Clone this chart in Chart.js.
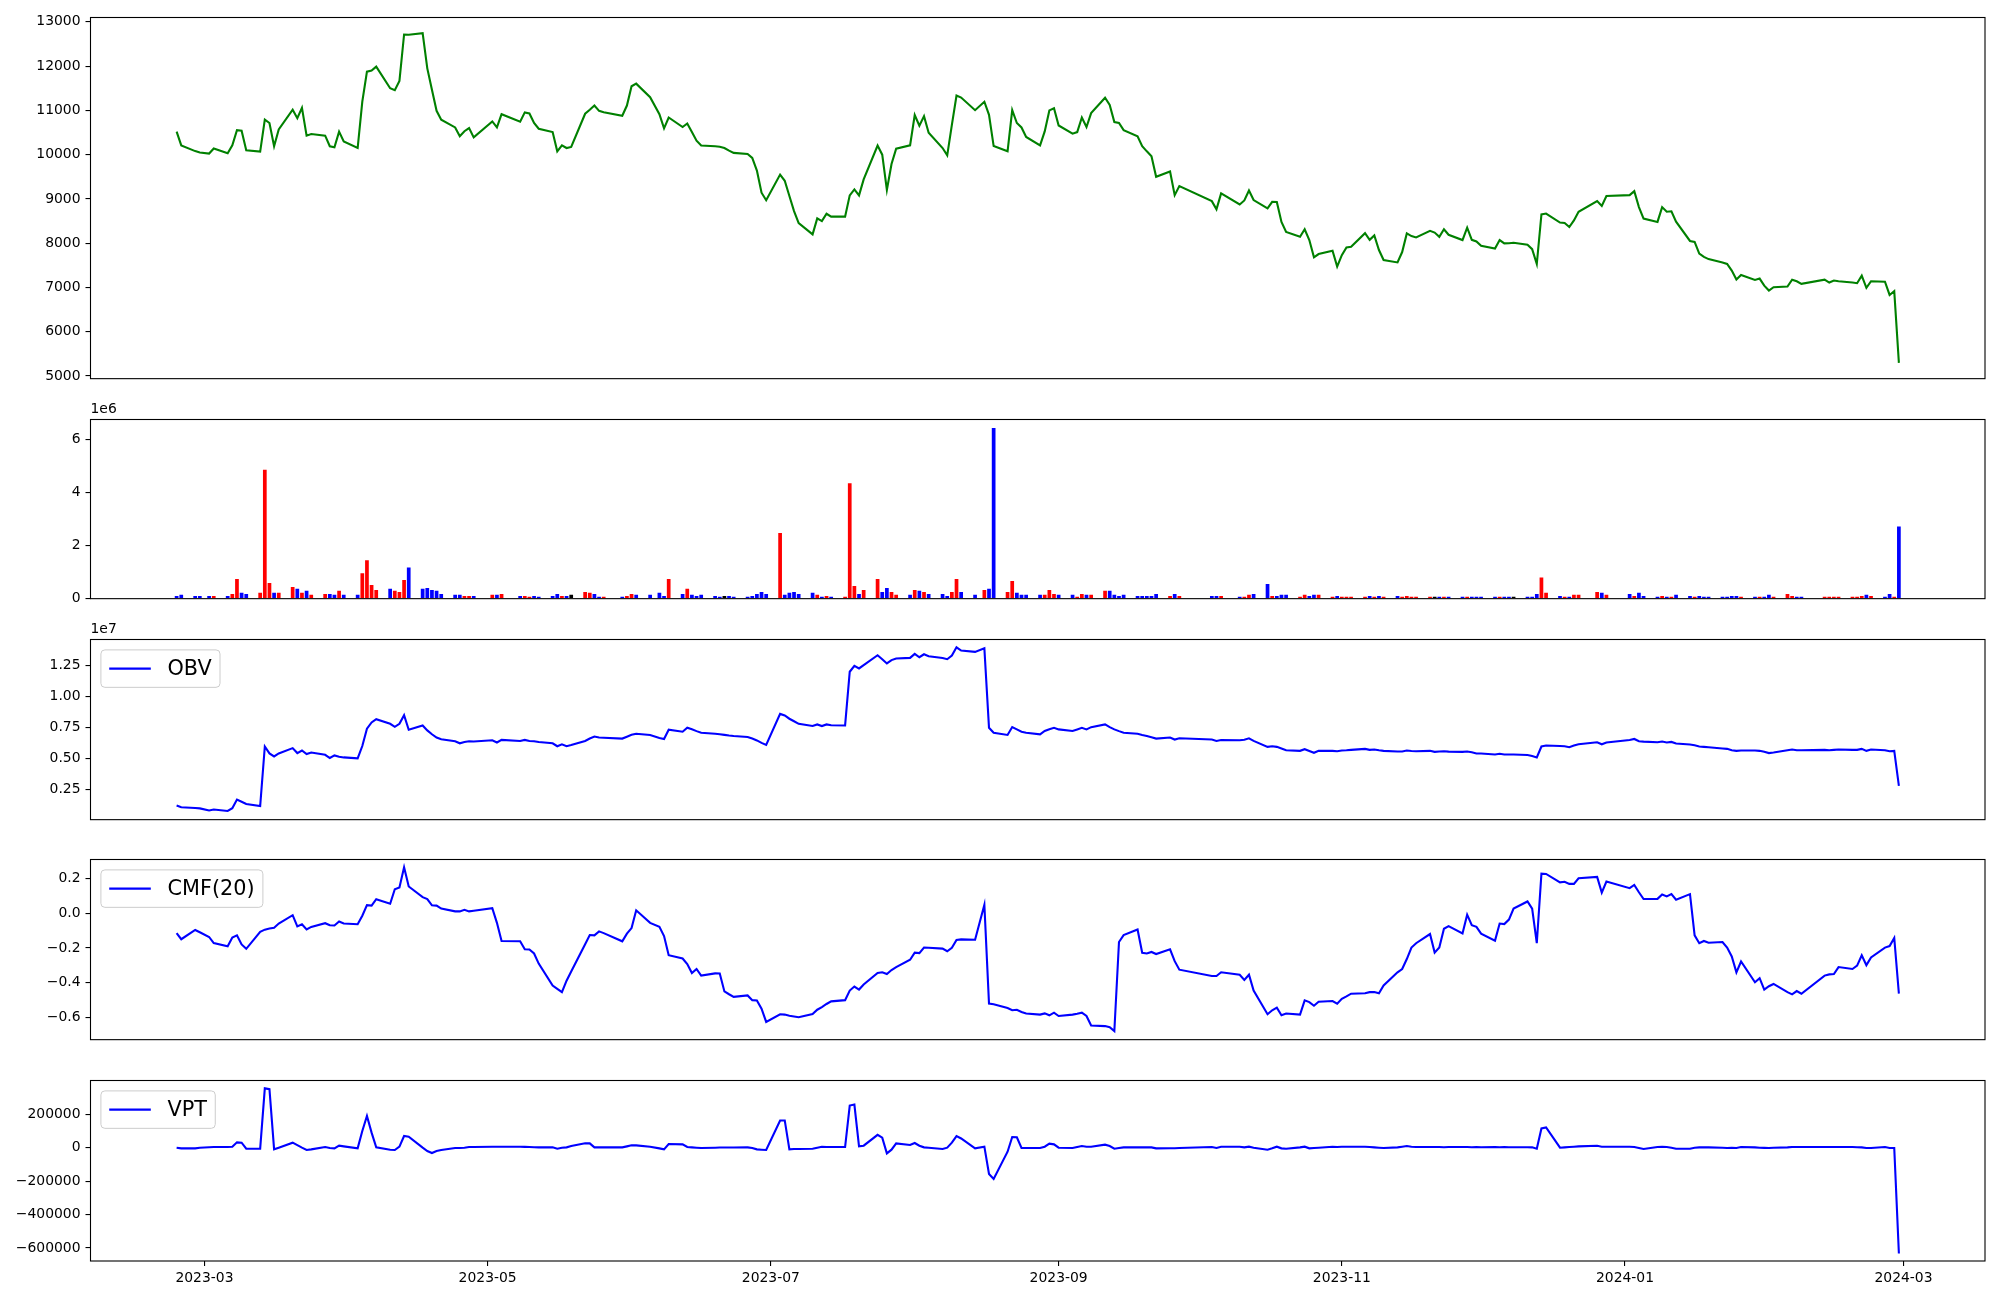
<!DOCTYPE html>
<html>
<head>
<meta charset="utf-8">
<title>Price / Volume / OBV / CMF / VPT</title>
<script src="https://cdn.jsdelivr.net/npm/chart.js@4.4.1/dist/chart.umd.min.js"></script>
<style>
  html, body { margin: 0; padding: 0; background: #fff; }
  #wrap { position: relative; width: 2000px; height: 1300px; overflow: hidden; }
  #wrap canvas { position: absolute; left: 0; }
</style>
</head>
<body>
<div id="wrap">
  <canvas id="chartPrice"></canvas>
  <canvas id="chartVolume"></canvas>
  <canvas id="chartObv"></canvas>
  <canvas id="chartCmf"></canvas>
  <canvas id="chartVpt"></canvas>
</div>
<script>
// ---- data ----

// trading days, grouped by month
const tradingDays = [
  ['2023-02', [23, 24, 27, 28]],
  ['2023-03', [2, 3, 6, 7, 8, 9, 10, 13, 14, 15, 16, 17, 20, 21, 22, 23, 24, 27, 28, 29, 30, 31]],
  ['2023-04', [3, 4, 5, 6, 7, 10, 11, 12, 13, 14, 17, 18, 19, 20, 21, 24, 25, 26, 27, 28]],
  ['2023-05', [2, 3, 4, 8, 9, 10, 11, 12, 15, 16, 17, 18, 19, 22, 23, 24, 25, 26, 30, 31]],
  ['2023-06', [1, 2, 5, 7, 8, 9, 12, 13, 14, 15, 16, 19, 20, 21, 22, 23, 26, 27, 28, 29, 30]],
  ['2023-07', [3, 4, 5, 6, 7, 10, 11, 12, 13, 14, 17, 18, 19, 20, 21, 24, 25, 26, 27, 28, 31]],
  ['2023-08', [1, 2, 3, 4, 7, 8, 9, 10, 11, 14, 16, 17, 18, 21, 22, 23, 24, 25, 28, 29, 30, 31]],
  ['2023-09', [1, 4, 5, 6, 7, 8, 11, 12, 13, 14, 15, 18, 19, 20, 21, 22, 25, 26, 27]],
  ['2023-10', [4, 5, 6, 10, 11, 12, 13, 16, 17, 18, 19, 20, 23, 24, 25, 26, 27, 30, 31]],
  ['2023-11', [1, 2, 3, 6, 7, 8, 9, 10, 13, 14, 15, 16, 17, 20, 21, 22, 23, 24, 27, 28, 29, 30]],
  ['2023-12', [1, 4, 5, 6, 7, 8, 11, 12, 13, 14, 15, 18, 19, 20, 21, 22, 26, 27, 28]],
  ['2024-01', [2, 3, 4, 5, 8, 9, 10, 11, 12, 15, 16, 17, 18, 19, 22, 23, 24, 25, 26, 29, 30, 31]],
  ['2024-02', [1, 2, 5, 6, 7, 8, 13, 14, 15, 16, 19, 20, 21, 22, 23, 26, 27, 28, 29]]
];

const closePrice = [
  10520, 10210, 10080, 10050,
  10025, 10140, 10030, 10210, 10555, 10540, 10100, 10070, 10790, 10715, 10190, 10570, 11015, 10825, 11060, 10430, 10465, 10430, 10190, 10165, 10520, 10300,
  10150, 11200, 11875, 11900, 11990, 11500, 11455, 11665, 12715, 12710, 12745, 11950, 11465, 10990, 10790, 10615, 10415, 10530, 10600, 10390,
  10750, 10615, 10915, 10745, 10955, 10930, 10715, 10585, 10510, 10075, 10210, 10150, 10175, 10925, 11015, 11110, 10990, 10960, 10880, 11110,
  11545, 11605, 11300, 10915, 10595, 10840, 10625, 10705, 10510, 10315, 10205, 10190, 10180, 10150, 10090, 10040, 10015, 9925, 9640, 9140, 8970,
  9550, 9410, 9065, 8725, 8455, 8200, 8560, 8500, 8665, 8600, 8600, 9080, 9215, 9080, 9440, 10205, 10000, 9205, 9790, 10135, 10210,
  10895, 10655, 10870, 10495, 10150, 9985, 10675, 11335, 11290, 11005, 11195, 10900, 10195, 10075, 11005, 10715, 10615, 10400, 10210, 10526, 11000, 11050,
  10660, 10475, 10510, 10840, 10625, 10940, 11285, 11125, 10735, 10715, 10555, 10415, 10190, 10075, 9965, 9500, 9620, 9085, 9290,
  8950, 8765, 9125, 8875, 8965, 9190, 8975, 8785, 8935, 8930, 8480, 8255, 8145, 8315, 8070, 7680, 7755, 7830, 7470,
  7730, 7905, 7920, 8225, 8075, 8175, 7845, 7620, 7565, 7800, 8220, 8160, 8130, 8280, 8240, 8145, 8315, 8190, 8070, 8350, 8075, 8040,
  7940, 7880, 8070, 7995, 8000, 8010, 7965, 7865, 7530, 8650, 8670, 8465, 8455, 8365, 8515, 8710, 8950, 8840, 9065,
  9085, 9175, 8815, 8555, 8480, 8815, 8710, 8720, 8485, 8050, 8030, 7765, 7690, 7640, 7565, 7530, 7380, 7180, 7280, 7170, 7200, 7040,
  6930, 7005, 7020, 7175, 7140, 7080, 7175, 7110, 7155, 7140, 7110, 7095, 7265, 6990, 7140, 7130, 6830, 6915, 5295
];

// volume in thousands of shares
const volumeThousands = [
  105, 145, 105, 105,
  105, 105, 105, 180, 740, 220, 180, 220, 4860, 590, 220, 220, 440, 370, 220, 295, 145, 180, 180, 145, 295, 145,
  145, 960, 1450, 515, 330, 370, 295, 255, 705, 1180, 370, 405, 330, 295, 180, 145, 145, 105, 105, 105,
  145, 145, 180, 105, 105, 68, 105, 68, 105, 180, 105, 105, 145, 255, 220, 180, 68, 68, 68, 105,
  180, 145, 145, 220, 105, 740, 180, 370, 145, 105, 145, 105, 68, 105, 105, 68, 68, 105, 180, 255, 180,
  2480, 145, 220, 255, 180, 220, 145, 68, 105, 68, 68, 4350, 480, 180, 330, 740, 255, 405, 255, 145, 145,
  330, 295, 255, 180, 180, 105, 255, 740, 255, 145, 330, 370, 6440, 255, 670, 220, 145, 145, 145, 145, 330, 180,
  145, 145, 68, 180, 145, 145, 295, 295, 145, 105, 145, 105, 105, 105, 105, 180, 105, 180, 105,
  105, 105, 105, 68, 68, 145, 180, 550, 105, 105, 145, 145, 68, 145, 105, 145, 145, 68, 105,
  68, 68, 68, 68, 105, 68, 105, 68, 105, 68, 105, 68, 68, 68, 68, 68, 68, 68, 68, 68, 68, 68,
  68, 68, 68, 68, 68, 68, 68, 68, 180, 800, 220, 105, 68, 68, 145, 145, 255, 220, 145,
  180, 105, 220, 105, 68, 105, 68, 68, 145, 105, 68, 105, 68, 68, 68, 68, 105, 105, 68, 68, 68, 68,
  145, 68, 180, 105, 68, 68, 68, 68, 68, 68, 68, 68, 105, 145, 105, 68, 180, 68, 2720
];

// bar colour per day: r = up, b = down, k = unchanged
const volumeDirection = [
  'bbbb',
  'brbrrbbrrrbrrbrbrrbbrb',
  'brrrrbrrrbbbbbbbbrrb',
  'rbrbrrbbbbrbkrrbbrbr',
  'rbbbbrbrbbbbbkbbbbbbb',
  'rbbbbbrbrbrrrbrrbbrrb',
  'rbrbbbrrbbrbbrrbbbbrrr',
  'bbrrbrrbbbbbbbbbrbr',
  'bbrbrrbbrbbbrrbbrrb',
  'rrrrbrbrbrrrrrkbrbbrbb',
  'bbrbbkbbbrrbrbrrrbr',
  'brbbbrbrbbrbbbbbbbrbrb',
  'brrrbbrrrrrrrbrbbrb'
].join('');

// OBV in units of 1e7
const obvE7 = [
  0.120, 0.106, 0.100, 0.097,
  0.080, 0.088, 0.076, 0.098, 0.168, 0.150, 0.133, 0.115, 0.596, 0.540, 0.516, 0.540, 0.583, 0.543, 0.564, 0.535, 0.548, 0.529, 0.503, 0.524, 0.513, 0.508,
  0.500, 0.600, 0.740, 0.790, 0.816, 0.779, 0.755, 0.779, 0.848, 0.731, 0.766, 0.726, 0.695, 0.668, 0.654, 0.638, 0.622, 0.632, 0.638, 0.636,
  0.646, 0.628, 0.649, 0.641, 0.649, 0.641, 0.638, 0.632, 0.622, 0.598, 0.614, 0.598, 0.608, 0.641, 0.660, 0.676, 0.668, 0.666, 0.660, 0.675,
  0.690, 0.699, 0.689, 0.665, 0.657, 0.731, 0.715, 0.747, 0.735, 0.720, 0.707, 0.699, 0.695, 0.690, 0.685, 0.681, 0.673, 0.660, 0.645, 0.625, 0.609,
  0.859, 0.846, 0.820, 0.800, 0.779, 0.761, 0.774, 0.761, 0.774, 0.768, 0.766, 1.199, 1.247, 1.226, 1.253, 1.332, 1.300, 1.266, 1.293, 1.306, 1.311,
  1.343, 1.316, 1.340, 1.324, 1.310, 1.300, 1.330, 1.396, 1.370, 1.359, 1.388, 0.747, 0.707, 0.689, 0.753, 0.734, 0.715, 0.707, 0.694, 0.721, 0.735, 0.747,
  0.734, 0.721, 0.734, 0.747, 0.734, 0.752, 0.774, 0.752, 0.734, 0.720, 0.707, 0.699, 0.689, 0.680, 0.670, 0.660, 0.668, 0.652, 0.662,
  0.652, 0.641, 0.649, 0.646, 0.650, 0.662, 0.641, 0.593, 0.598, 0.593, 0.580, 0.566, 0.561, 0.574, 0.560, 0.545, 0.561, 0.561, 0.558,
  0.564, 0.566, 0.569, 0.577, 0.569, 0.572, 0.566, 0.561, 0.556, 0.556, 0.564, 0.560, 0.558, 0.561, 0.553, 0.556, 0.558, 0.555, 0.553, 0.556, 0.550, 0.540,
  0.540, 0.532, 0.537, 0.532, 0.532, 0.532, 0.527, 0.519, 0.508, 0.596, 0.604, 0.600, 0.598, 0.590, 0.604, 0.614, 0.630, 0.614, 0.628,
  0.649, 0.657, 0.638, 0.635, 0.630, 0.636, 0.628, 0.633, 0.620, 0.612, 0.606, 0.596, 0.593, 0.590, 0.580, 0.577, 0.566, 0.561, 0.564, 0.564, 0.561, 0.553,
  0.543, 0.548, 0.566, 0.572, 0.566, 0.566, 0.569, 0.566, 0.569, 0.572, 0.569, 0.569, 0.577, 0.561, 0.572, 0.566, 0.558, 0.561, 0.279
];

const cmf20 = [
  -0.115, -0.150, -0.097, -0.110,
  -0.137, -0.172, -0.190, -0.140, -0.128, -0.180, -0.205, -0.107, -0.095, -0.088, -0.084, -0.060, -0.012, -0.076, -0.064, -0.094, -0.079, -0.058, -0.070, -0.071, -0.048, -0.060,
  -0.064, -0.015, 0.046, 0.043, 0.080, 0.054, 0.137, 0.147, 0.263, 0.153, 0.092, 0.081, 0.045, 0.043, 0.026, 0.010, 0.010, 0.019, 0.010, 0.014,
  0.028, -0.056, -0.160, -0.162, -0.208, -0.209, -0.232, -0.290, -0.416, -0.435, -0.454, -0.388, -0.336, -0.179, -0.126, -0.128, -0.105, -0.115, -0.162, -0.118,
  -0.086, 0.016, -0.056, -0.079, -0.132, -0.242, -0.261, -0.293, -0.344, -0.321, -0.359, -0.346, -0.347, -0.450, -0.466, -0.481, -0.473, -0.500, -0.502, -0.549, -0.625,
  -0.581, -0.583, -0.590, -0.594, -0.598, -0.580, -0.555, -0.540, -0.522, -0.507, -0.500, -0.445, -0.422, -0.439, -0.410, -0.344, -0.340, -0.350, -0.327, -0.310, -0.268,
  -0.227, -0.230, -0.198, -0.199, -0.204, -0.219, -0.199, -0.154, -0.151, -0.153, 0.048, -0.520, -0.524, -0.545, -0.558, -0.555, -0.568, -0.577, -0.583, -0.576, -0.587, -0.572,
  -0.591, -0.583, -0.578, -0.572, -0.591, -0.646, -0.649, -0.655, -0.678, -0.166, -0.126, -0.094, -0.228, -0.232, -0.223, -0.235, -0.208, -0.276, -0.325,
  -0.361, -0.361, -0.340, -0.354, -0.384, -0.354, -0.445, -0.581, -0.558, -0.543, -0.587, -0.577, -0.583, -0.501, -0.511, -0.532, -0.509, -0.505, -0.520,
  -0.492, -0.478, -0.463, -0.460, -0.454, -0.453, -0.460, -0.416, -0.340, -0.321, -0.264, -0.198, -0.173, -0.120, -0.227, -0.198, -0.090, -0.075, -0.117, -0.009, -0.069, -0.079,
  -0.118, -0.158, -0.060, -0.063, -0.037, 0.026, 0.067, 0.026, -0.173, 0.227, 0.225, 0.177, 0.180, 0.168, 0.168, 0.200, 0.208, 0.118, 0.181,
  0.143, 0.162, 0.120, 0.081, 0.082, 0.107, 0.096, 0.109, 0.077, 0.109, -0.128, -0.173, -0.160, -0.170, -0.166, -0.198, -0.249, -0.340, -0.278, -0.397, -0.374, -0.439,
  -0.420, -0.407, -0.454, -0.467, -0.448, -0.463, -0.359, -0.352, -0.350, -0.310, -0.321, -0.302, -0.242, -0.299, -0.255, -0.198, -0.189, -0.143, -0.463
];

const vpt = [
  0, -4000, -4000, 0,
  3000, 4000, 4000, 6000, 32000, 30000, -6000, -6000, 355000, 350000, -10000, 0, 30000, 15000, 0, -14000, -10000, 4000, -2000, -4000, 12000, 8000,
  -4000, 100000, 190000, 90000, 2000, -12000, -14000, 6000, 70000, 66000, 0, -20000, -32000, -20000, -14000, -2000, -2000, 0, 4000, 4000,
  6000, 6000, 6000, 6000, 5000, 4000, 3000, 2000, 2000, -6000, 0, 2000, 10000, 26000, 26000, 2000, 2000, 2000, 2000, 8000,
  14000, 14000, 6000, -4000, -10000, 22000, 20000, 4000, 2000, 0, -2000, 0, 1000, 1000, 1000, 1000, 2000, -2000, -10000, -12000, -14000,
  163000, 163000, -10000, -8000, -8000, -6000, 0, 6000, 4000, 4000, 4000, 252000, 258000, 8000, 12000, 77000, 60000, -34000, -12000, 26000, 16000,
  28000, 12000, 2000, 0, -8000, 0, 30000, 69000, 55000, -4000, 6000, -157000, -187000, -24000, 64000, 62000, -2000, -2000, -2000, 6000, 24000, 20000,
  0, -2000, 4000, 10000, 6000, 6000, 18000, 10000, -6000, -2000, 2000, 2000, 2000, 2000, 2000, -4000, -3000, -3000, -2000,
  4000, -2000, 6000, 6000, 2000, 6000, 0, -12000, -4000, 6000, -4000, -6000, 2000, 6000, -4000, -2000, 0, 6000, 4000,
  6000, 6000, 6000, 6000, 4000, 2000, 0, -2000, 2000, 6000, 10000, 6000, 4000, 4000, 4000, 4000, 3000, 4000, 4000, 4000, 3000, 4000,
  3000, 4000, 3000, 4000, 3000, 3000, 3000, 2000, -6000, 115000, 121000, 0, 2000, 4000, 6000, 8000, 12000, 6000, 6000,
  6000, 4000, -2000, -8000, 4000, 6000, 4000, 0, -6000, -6000, 0, 2000, 2000, 2000, 0, -2000, 0, -2000, 4000, 2000, 0, -1000,
  -2000, 0, 2000, 4000, 4000, 4000, 4000, 4000, 4000, 4000, 4000, 3000, 2000, -2000, -2000, 4000, -2000, -2000, -633000
];

// tick values / labels
const priceTicks = [5000, 6000, 7000, 8000, 9000, 10000, 11000, 12000, 13000];
const volumeTicks = [0, 2, 4, 6];
const obvTicks = [0.25, 0.5, 0.75, 1.0, 1.25];
const cmfTicks = [-0.6, -0.4, -0.2, 0.0, 0.2];
const vptTicks = [-600000, -400000, -200000, 0, 200000];
const dateTicks = ['2023-03-01', '2023-05-01', '2023-07-01', '2023-09-01', '2023-11-01', '2024-01-01', '2024-03-01'];
const dateTickLabels = ['2023-03', '2023-05', '2023-07', '2023-09', '2023-11', '2024-01', '2024-03'];

// ---- helpers ----
const DAY_MS = 86400000;
function dayNum(iso) {
  const [y, m, d] = iso.split('-').map(Number);
  return Date.UTC(y, m - 1, d) / DAY_MS;
}

const xDays = [];
tradingDays.forEach(([ym, days]) => {
  days.forEach(d => xDays.push(dayNum(ym + '-' + String(d).padStart(2, '0'))));
});

[closePrice, volumeThousands, obvE7, cmf20, vpt].forEach((arr, k) => {
  if (arr.length !== xDays.length) console.warn('series', k, 'has', arr.length, 'values, expected', xDays.length);
});
if (volumeDirection.length !== xDays.length) console.warn('direction length', volumeDirection.length);

// matplotlib-like 5% x margins
const xFirst = xDays[0], xLast = xDays[xDays.length - 1];
const xMargin = (xLast - xFirst) * 0.05;
const xMin = xFirst - xMargin, xMax = xLast + xMargin;

const toPoints = arr => arr.map((v, i) => ({ x: xDays[i], y: v }));
const minus = s => s.replace('-', '\u2212');

const FONT = '"DejaVu Sans", "Liberation Sans", sans-serif';
const TICK_PX = 13.9;
Chart.defaults.font.family = FONT;
Chart.defaults.font.size = TICK_PX;
Chart.defaults.color = '#000';

const PLOT_LEFT = 90.5;
const PLOT_RIGHT = 1985;

// frame around plot area (matplotlib spines)
const framePlugin = {
  id: 'frame',
  afterDatasetsDraw(chart) {
    const a = chart.chartArea, ctx = chart.ctx;
    ctx.save();
    ctx.strokeStyle = '#000';
    ctx.lineWidth = 1.1;
    ctx.strokeRect(a.left, a.top, a.right - a.left, a.bottom - a.top);
    ctx.restore();
  }
};

// "1e6" style offset text above the axes
function offsetTextPlugin(text) {
  return {
    id: 'offsetText',
    afterDraw(chart) {
      const a = chart.chartArea, ctx = chart.ctx;
      ctx.save();
      ctx.font = TICK_PX + 'px ' + FONT;
      ctx.fillStyle = '#000';
      ctx.textAlign = 'left';
      ctx.textBaseline = 'bottom';
      ctx.fillText(text, a.left, a.top - 3);
      ctx.restore();
    }
  };
}

// upper-left legend box in matplotlib style
function legendPlugin(label, color) {
  return {
    id: 'mplLegend',
    afterDraw(chart) {
      const a = chart.chartArea, ctx = chart.ctx;
      const fs = 20.8;
      const pad = 0.4 * fs, handle = 2 * fs, gap = 0.8 * fs, edge = 0.5 * fs;
      ctx.save();
      ctx.font = fs + 'px ' + FONT;
      const tw = ctx.measureText(label).width;
      const w = pad + handle + gap + tw + pad;
      const h = 2 * pad + fs;
      const x0 = a.left + edge, y0 = a.top + edge;
      const r = 4;
      ctx.beginPath();
      ctx.moveTo(x0 + r, y0);
      ctx.lineTo(x0 + w - r, y0);
      ctx.arcTo(x0 + w, y0, x0 + w, y0 + r, r);
      ctx.lineTo(x0 + w, y0 + h - r);
      ctx.arcTo(x0 + w, y0 + h, x0 + w - r, y0 + h, r);
      ctx.lineTo(x0 + r, y0 + h);
      ctx.arcTo(x0, y0 + h, x0, y0 + h - r, r);
      ctx.lineTo(x0, y0 + r);
      ctx.arcTo(x0, y0, x0 + r, y0, r);
      ctx.closePath();
      ctx.fillStyle = 'rgba(255,255,255,0.8)';
      ctx.fill();
      ctx.strokeStyle = '#cccccc';
      ctx.lineWidth = 1;
      ctx.stroke();
      const cy = y0 + h / 2;
      ctx.beginPath();
      ctx.moveTo(x0 + pad, cy);
      ctx.lineTo(x0 + pad + handle, cy);
      ctx.strokeStyle = color;
      ctx.lineWidth = 2.1;
      ctx.stroke();
      ctx.fillStyle = '#000';
      ctx.textAlign = 'left';
      ctx.textBaseline = 'middle';
      ctx.fillText(label, x0 + pad + handle + gap, cy + 1);
      ctx.restore();
    }
  };
}

function makePanel(opt) {
  const canvas = document.getElementById(opt.id);
  const cTop = Math.floor(opt.top) - 25;
  const cBottom = opt.showX ? 1300 : Math.ceil(opt.bottom) + 12;
  const h = cBottom - cTop;
  canvas.width = 2000;
  canvas.height = h;
  canvas.style.width = '2000px';
  canvas.style.height = h + 'px';
  canvas.style.top = cTop + 'px';

  const xScale = {
    type: 'linear',
    min: xMin,
    max: xMax,
    offset: false,
    display: !!opt.showX,
    bounds: 'data',
    grid: { display: true, drawOnChartArea: false, drawTicks: true, tickLength: 5, color: '#000', lineWidth: 1.1, offset: false },
    border: { display: false },
    ticks: {
      autoSkip: false,
      maxRotation: 0,
      minRotation: 0,
      padding: 4,
      font: { size: TICK_PX, family: FONT },
      color: '#000',
      callback: (v, i) => dateTickLabels[i]
    },
    afterBuildTicks: s => { s.ticks = dateTicks.map(d => ({ value: dayNum(d) })); },
    afterFit: s => { if (opt.showX) s.height = cBottom - opt.bottom; }
  };

  const yScale = {
    type: 'linear',
    min: opt.yMin,
    max: opt.yMax,
    bounds: 'data',
    grid: { display: true, drawOnChartArea: false, drawTicks: true, tickLength: 5, color: '#000', lineWidth: 1.1 },
    border: { display: false },
    ticks: {
      padding: 5,
      font: { size: TICK_PX, family: FONT },
      color: '#000',
      callback: v => opt.fmt(v)
    },
    afterBuildTicks: s => { s.ticks = opt.yTicks.map(v => ({ value: v })); },
    afterFit: s => { s.width = PLOT_LEFT; }
  };

  return new Chart(canvas, {
    type: opt.type,
    data: { datasets: opt.datasets },
    options: {
      responsive: false,
      animation: false,
      devicePixelRatio: 1,
      events: [],
      layout: {
        padding: {
          left: 0,
          right: 2000 - PLOT_RIGHT,
          top: opt.top - cTop,
          bottom: opt.showX ? 0 : cBottom - opt.bottom
        }
      },
      plugins: { legend: { display: false }, tooltip: { enabled: false } },
      scales: { x: xScale, y: yScale }
    },
    plugins: [framePlugin].concat(opt.plugins || [])
  });
}

function lineSet(values, color) {
  return {
    type: 'line',
    data: toPoints(values),
    borderColor: color,
    borderWidth: 2.1,
    pointRadius: 0,
    tension: 0,
    fill: false
  };
}

const dirColor = { r: '#ff0000', b: '#0000ff', k: '#000000' };

// price
makePanel({
  id: 'chartPrice', type: 'line', top: 17.5, bottom: 380,
  yMin: 4939, yMax: 13099, yTicks: priceTicks, fmt: v => String(v),
  datasets: [lineSet(closePrice, '#008000')]
});

// volume
makePanel({
  id: 'chartVolume', type: 'bar', top: 419.5, bottom: 600,
  yMin: 0, yMax: 6.76, yTicks: volumeTicks, fmt: v => String(v),
  datasets: [{
    type: 'bar',
    data: volumeThousands.map((v, i) => ({ x: xDays[i], y: v / 1000 })),
    backgroundColor: volumeDirection.split('').map(c => dirColor[c]),
    borderWidth: 0,
    barPercentage: 0.8,
    categoryPercentage: 1.0
  }],
  plugins: [offsetTextPlugin('1e6')]
});

// OBV
makePanel({
  id: 'chartObv', type: 'line', top: 639.5, bottom: 821,
  yMin: 0.006, yMax: 1.459, yTicks: obvTicks, fmt: v => v.toFixed(2),
  datasets: [lineSet(obvE7, '#0000ff')],
  plugins: [offsetTextPlugin('1e7'), legendPlugin('OBV', '#0000ff')]
});

// CMF
makePanel({
  id: 'chartCmf', type: 'line', top: 859.5, bottom: 1041,
  yMin: -0.727, yMax: 0.308, yTicks: cmfTicks, fmt: v => minus(v.toFixed(1)),
  datasets: [lineSet(cmf20, '#0000ff')],
  plugins: [legendPlugin('CMF(20)', '#0000ff')]
});

// VPT
makePanel({
  id: 'chartVpt', type: 'line', top: 1080.5, bottom: 1261, showX: true,
  yMin: -678000, yMax: 402000, yTicks: vptTicks, fmt: v => minus(String(v)),
  datasets: [lineSet(vpt, '#0000ff')],
  plugins: [legendPlugin('VPT', '#0000ff')]
});
</script>
</body>
</html>
